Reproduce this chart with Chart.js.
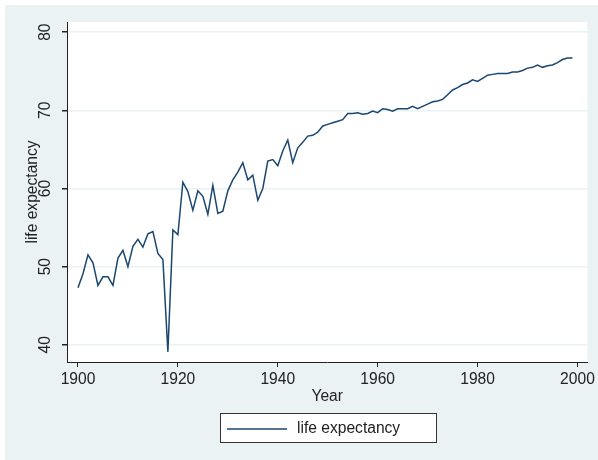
<!DOCTYPE html>
<html>
<head>
<meta charset="utf-8">
<script src="https://cdn.jsdelivr.net/npm/chart.js@4/dist/chart.umd.min.js"></script>
<style>
  html, body { margin: 0; padding: 0; background: #ffffff; }
  #wrap { width: 598px; height: 460px; position: relative; }
</style>
</head>
<body>
<div id="wrap"><canvas id="chart" width="598" height="460"></canvas></div>
<script>
// DATA
const years = [];
for (let y = 1900; y <= 1999; y++) years.push(y);

const lifeExpectancy = [
    47.3, 49.1, 51.5, 50.5, 47.6, 48.7, 48.7, 47.6, 51.1, 52.1,
    50.0, 52.6, 53.5, 52.5, 54.2, 54.5, 51.7, 50.9, 39.1, 54.7,
    54.1, 60.8, 59.6, 57.2, 59.7, 59.0, 56.7, 60.4, 56.8, 57.1,
    59.7, 61.1, 62.1, 63.3, 61.1, 61.7, 58.5, 60.0, 63.5, 63.7,
    62.9, 64.8, 66.2, 63.3, 65.2, 65.9, 66.7, 66.8, 67.2, 68.0,
    68.2, 68.4, 68.6, 68.8, 69.6, 69.6, 69.7, 69.5, 69.6, 69.9,
    69.7, 70.2, 70.1, 69.9, 70.2, 70.2, 70.2, 70.5, 70.2, 70.5,
    70.8, 71.1, 71.2, 71.4, 72.0, 72.6, 72.9, 73.3, 73.5, 73.9,
    73.7, 74.1, 74.5, 74.6, 74.7, 74.7, 74.7, 74.9, 74.9, 75.1,
    75.4, 75.5, 75.8, 75.5, 75.7, 75.8, 76.1, 76.5, 76.7, 76.7
];

const xTicks = [1900, 1920, 1940, 1960, 1980, 2000];
const yTicks = [40, 50, 60, 70, 80];
const seriesLabel = 'life expectancy';

// STYLE
const BG = '#eaf2f3';
const LINE = '#1a476f';
const AXIS = '#222222';
const FONT = 'Liberation Sans, Arial, Helvetica, sans-serif';
const FSIZE = 15.6;

// backgrounds, rotated y labels, legend
const stataLook = {
    id: 'stataLook',
    beforeDraw(chart) {
        const ctx = chart.ctx;
        const a = chart.chartArea;
        ctx.save();
        ctx.fillStyle = BG;
        ctx.fillRect(5, 5, chart.width - 5, chart.height - 5);
        ctx.fillStyle = '#ffffff';
        ctx.fillRect(a.left, a.top, a.right - a.left, a.bottom - a.top);
        ctx.restore();
    },
    afterDraw(chart) {
        const ctx = chart.ctx;
        const ys = chart.scales.y;
        ctx.save();
        ctx.fillStyle = AXIS;
        ctx.font = FSIZE + 'px ' + FONT;
        ctx.textAlign = 'center';
        ctx.textBaseline = 'middle';
        yTicks.forEach(v => {
            const py = ys.getPixelForValue(v);
            ctx.save();
            ctx.translate(46, py);
            ctx.rotate(-Math.PI / 2);
            ctx.fillText(String(v), 0, 0);
            ctx.restore();
        });

        // legend
        ctx.fillStyle = '#ffffff';
        ctx.fillRect(220.5, 413.5, 216, 29);
        ctx.strokeStyle = '#333333';
        ctx.lineWidth = 1;
        ctx.strokeRect(220.5, 413.5, 216, 29);
        ctx.strokeStyle = LINE;
        ctx.lineWidth = 1.5;
        ctx.beginPath();
        ctx.moveTo(227, 429);
        ctx.lineTo(287, 429);
        ctx.stroke();
        ctx.fillStyle = AXIS;
        ctx.textAlign = 'left';
        ctx.fillText(seriesLabel, 297, 429);
        ctx.restore();
    }
};

new Chart(document.getElementById('chart'), {
    type: 'line',
    data: {
        labels: years,
        datasets: [{
            label: seriesLabel,
            data: years.map((y, i) => ({ x: y, y: lifeExpectancy[i] })),
            borderColor: LINE,
            borderWidth: 1.5,
            pointRadius: 0,
            tension: 0,
            fill: false
        }]
    },
    options: {
        responsive: false,
        animation: false,
        layout: { padding: { left: 0, top: 22, right: 10, bottom: 0 } },
        plugins: {
            legend: { display: false },
            tooltip: { enabled: false }
        },
        scales: {
            x: {
                type: 'linear',
                min: 1897.8,
                max: 2002,
                afterFit: s => { s.height = 98; },
                afterBuildTicks: s => { s.ticks = xTicks.map(v => ({ value: v })); },
                ticks: {
                    color: AXIS,
                    font: { family: FONT, size: FSIZE },
                    padding: 3,
                    maxRotation: 0,
                    autoSkip: false,
                    callback: v => String(v)
                },
                grid: {
                    drawOnChartArea: false,
                    drawTicks: true,
                    tickLength: 5,
                    tickColor: AXIS
                },
                border: { display: true, color: AXIS, width: 1 },
                title: {
                    display: true,
                    text: 'Year',
                    color: AXIS,
                    font: { family: FONT, size: FSIZE },
                    padding: { top: 0, bottom: 54 }
                }
            },
            y: {
                type: 'linear',
                min: 37.8,
                max: 81.3,
                afterFit: s => { s.width = 67; },
                afterBuildTicks: s => { s.ticks = yTicks.map(v => ({ value: v })); },
                ticks: {
                    display: false
                },
                grid: {
                    color: BG,
                    lineWidth: 1.5,
                    drawTicks: true,
                    tickLength: 5,
                    tickColor: AXIS
                },
                border: { display: true, color: AXIS, width: 1 },
                title: {
                    display: true,
                    text: 'life expectancy',
                    color: AXIS,
                    font: { family: FONT, size: FSIZE },
                    padding: { top: 23, bottom: 0 }
                }
            }
        }
    },
    plugins: [stataLook]
});
</script>
</body>
</html>
